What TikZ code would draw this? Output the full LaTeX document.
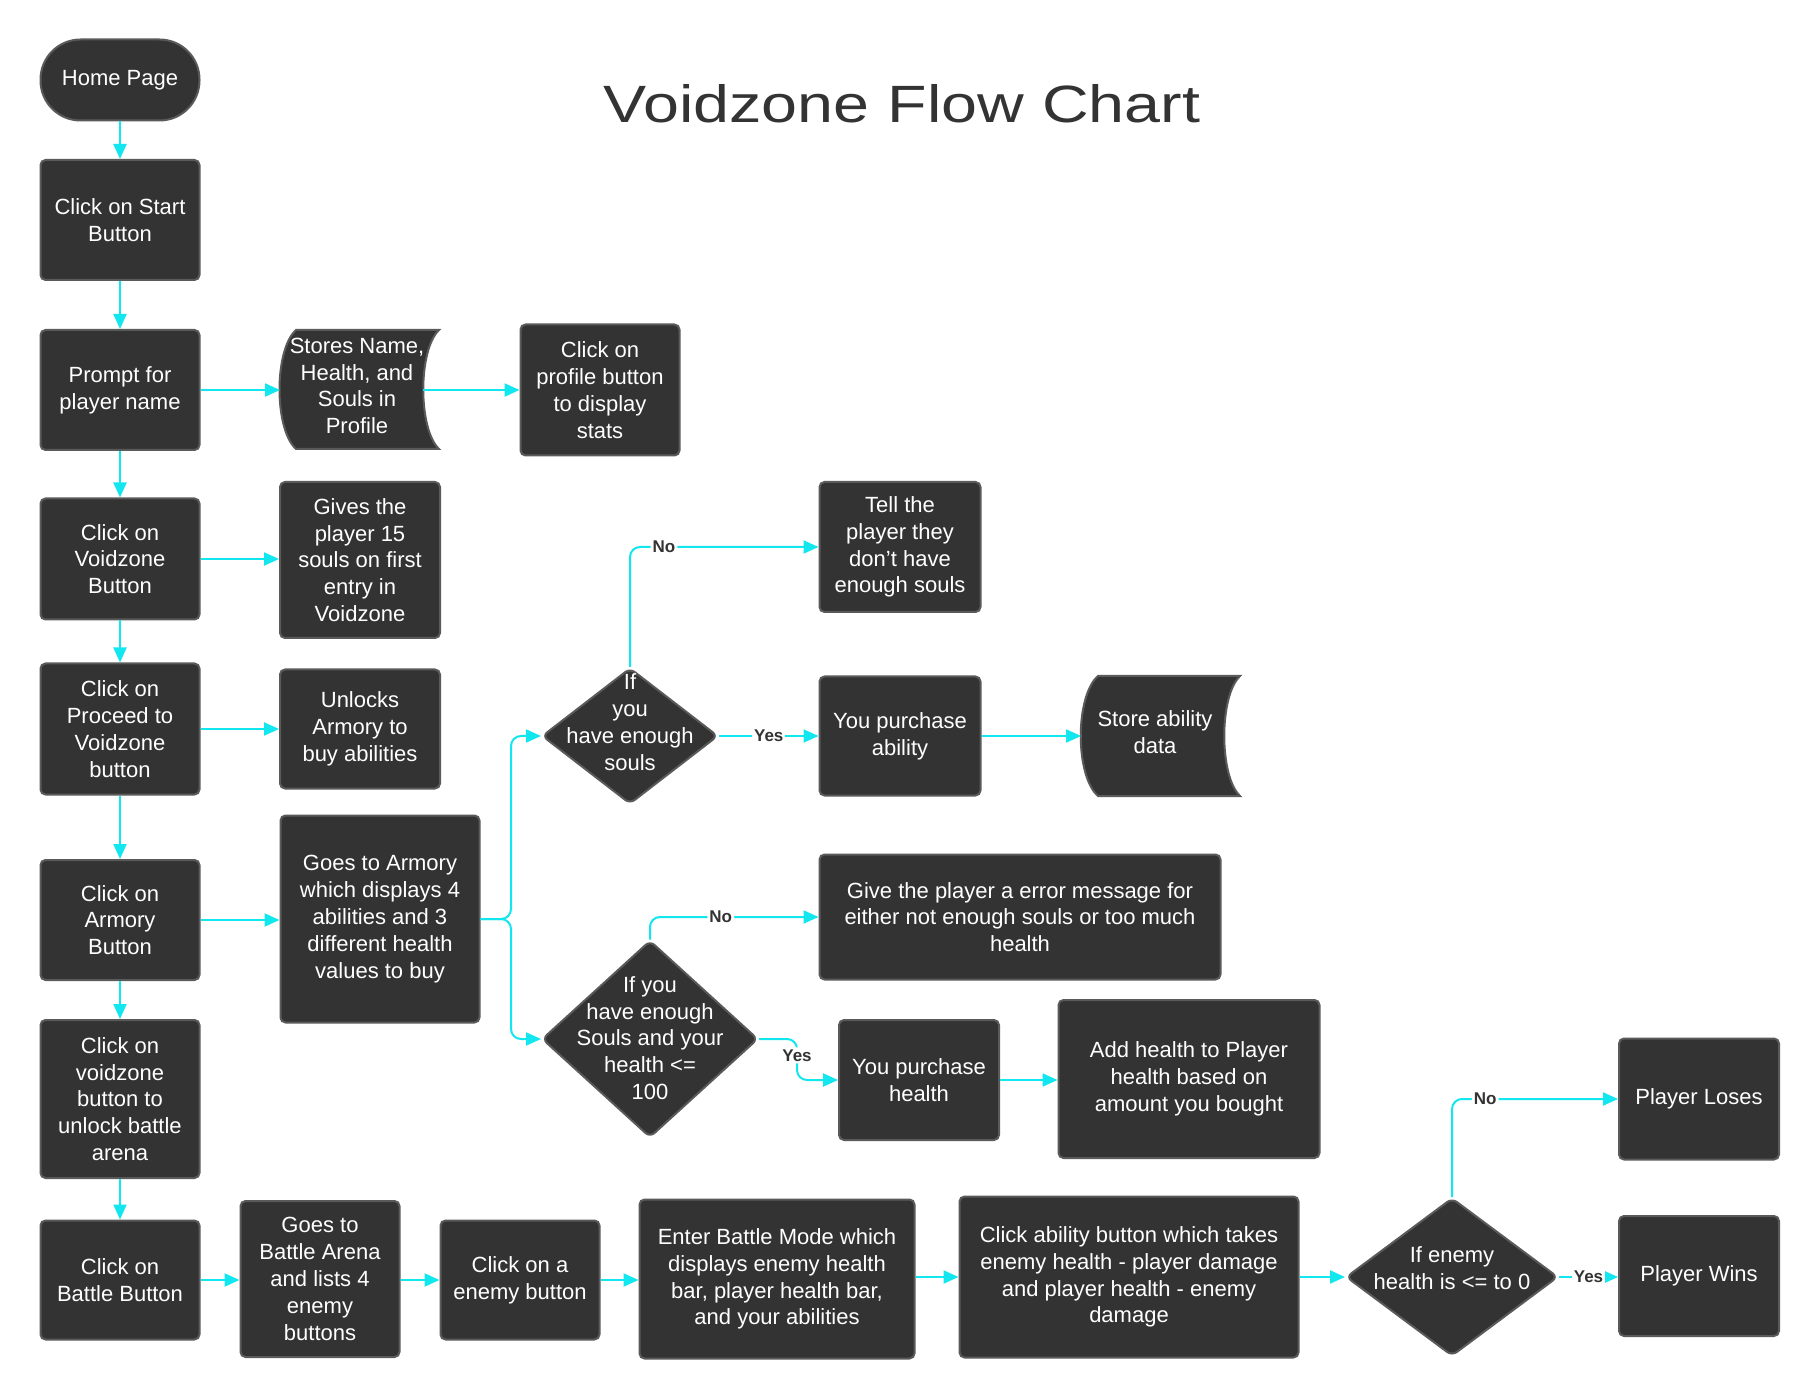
\documentclass[tikz,border=0pt]{standalone}
\usepackage{fontspec}
\setmainfont{Liberation Sans}
\usetikzlibrary{arrows.meta,shapes.geometric,calc}
\definecolor{boxfill}{HTML}{333333}
\definecolor{boxline}{HTML}{5A5A5A}
\definecolor{cyanline}{HTML}{12E6EE}
\definecolor{titlecol}{HTML}{333333}
\tikzset{
  box/.style={rectangle, draw=boxline, fill=boxfill, line width=1pt, rounded corners=2.5pt, text=white, align=center, font=\fontsize{11}{13.4}\selectfont, inner sep=0pt},
  dia/.style={diamond, draw=boxline, fill=boxfill, line width=1pt, rounded corners=3pt, inner sep=0pt},
  dtext/.style={text=white, align=center, font=\fontsize{11}{13.4}\selectfont, inner sep=0pt},
  storeshape/.style={draw=boxline, fill=boxfill, line width=1pt},
  conn/.style={draw=cyanline, line width=1pt, -{Triangle[length=7.5pt,width=6.5pt]}},
  lbl/.style={fill=white, text=titlecol, font=\bfseries\fontsize{8.5}{10}\selectfont, inner sep=1pt}
}
\begin{document}
\begin{tikzpicture}[x=0.5pt,y=-0.5pt]
\fill[white] (0,0) rectangle (1820,1400);
\useasboundingbox (0,0) rectangle (1820,1400);

% title
\node[text=titlecol, font=\fontsize{32}{38}\selectfont] (title) at (902,104) {\scalebox{1.01}[0.82]{Voidzone Flow Chart}};

% left column
\node[box, minimum width=79.5pt, minimum height=40.5pt, rounded corners=20pt] (home) at (120,80) {Home Page};
\node[box, minimum width=79.5pt, minimum height=60pt] (start) at (120,220) {Click on Start\\Button};
\node[box, minimum width=79.5pt, minimum height=60pt] (prompt) at (120,390) {Prompt for\\player name};
\node[box, minimum width=79.5pt, minimum height=60.5pt] (vz) at (120,559) {Click on\\Voidzone\\Button};
\node[box, minimum width=79.5pt, minimum height=65.5pt] (proceed) at (120,729) {Click on\\Proceed to\\Voidzone\\button};
\node[box, minimum width=79.5pt, minimum height=60pt] (armbtn) at (120,920) {Click on\\Armory\\Button};
\node[box, minimum width=79.5pt, minimum height=79pt] (unlockb) at (120,1099) {Click on\\voidzone\\button to\\unlock battle\\arena};
\node[box, minimum width=79.5pt, minimum height=59.5pt] (battle) at (120,1280) {Click on\\Battle Button};

% stores shape
\draw[storeshape] (296,330) -- (439,330) .. controls (418,350) and (418,429) .. (439,449) -- (296,449) .. controls (274,429) and (274,350) .. (296,330) -- cycle;
\node[dtext] (stores) at (357,386) {Stores Name,\\Health, and\\Souls in\\Profile};
\coordinate (storesL) at (280,390);
\coordinate (storesR) at (423,390);
\node[box, minimum width=79.5pt, minimum height=65.5pt] (profile) at (600,390) {Click on\\profile button\\to display\\stats};

\node[box, minimum width=80pt, minimum height=78pt] (gives) at (360,560) {Gives the\\player 15\\souls on first\\entry in\\Voidzone};
\node[box, minimum width=80pt, minimum height=59.5pt] (unlocks) at (360,729) {Unlocks\\Armory to\\buy abilities};
\node[box, minimum width=99.5pt, minimum height=103.5pt] (goarm) at (380,919) {Goes to Armory\\which displays 4\\abilities and 3\\different health\\values to buy};

% bottom row
\node[box, minimum width=79.5pt, minimum height=78pt] (arena) at (320,1279) {Goes to\\Battle Arena\\and lists 4\\enemy\\buttons};
\node[box, minimum width=79.5pt, minimum height=59.5pt] (enemy) at (520,1280) {Click on a\\enemy button};
\node[box, minimum width=137.5pt, minimum height=79.5pt] (bmode) at (777,1279) {Enter Battle Mode which\\displays enemy health\\bar, player health bar,\\and your abilities};
\node[box, minimum width=169.5pt, minimum height=80.5pt] (ability) at (1129,1277) {Click ability button which takes\\enemy health - player damage\\and player health - enemy\\damage};
\node[dia, minimum width=106pt, minimum height=79pt] (d3) at (1452,1277) {};
\node[dtext] (d3t) at (1452,1268) {If enemy\\health is <= to 0};
\node[box, minimum width=80pt, minimum height=60.5pt] (loses) at (1699,1099) {Player Loses};
\node[box, minimum width=80pt, minimum height=60pt] (wins) at (1699,1276) {Player Wins};

% armory branch
\node[dia, minimum width=88pt, minimum height=68pt] (d1) at (630,736) {};
\node[dtext] (d1t) at (630,722) {If\\you\\have enough\\souls};
\node[box, minimum width=80.5pt, minimum height=65pt] (tell) at (900,547) {Tell the\\player they\\don't have\\enough souls};
\node[box, minimum width=80.5pt, minimum height=59.5pt] (pa) at (900,736) {You purchase\\ability};
\draw[storeshape] (1098,676) -- (1240,676) .. controls (1219,696) and (1219,776) .. (1240,796) -- (1098,796) .. controls (1075,776) and (1075,696) .. (1098,676) -- cycle;
\node[dtext] (sad) at (1155,732) {Store ability\\data};
\coordinate (sadL) at (1081,736);

\node[dia, minimum width=108pt, minimum height=98.5pt] (d2) at (650,1039) {};
\node[dtext] (d2t) at (650,1038) {If you\\have enough\\Souls and your\\health <=\\100};
\node[box, minimum width=200.5pt, minimum height=62.5pt] (err) at (1020,917) {Give the player a error message for\\either not enough souls or too much\\health};
\node[box, minimum width=80pt, minimum height=60pt] (ph) at (919,1080) {You purchase\\health};
\node[box, minimum width=130.5pt, minimum height=79pt] (addh) at (1189,1079) {Add health to Player\\health based on\\amount you bought};

% connectors: left column
\draw[conn] (home) -- (start);
\draw[conn] (start) -- (prompt);
\draw[conn] (prompt) -- (vz);
\draw[conn] (vz) -- (proceed);
\draw[conn] (proceed) -- (armbtn);
\draw[conn] (armbtn) -- (unlockb);
\draw[conn] (unlockb) -- (battle);

\draw[conn] (prompt.east) -- (storesL);
\draw[conn] (storesR) -- (storesR -| profile.west);
\draw[conn] (vz.east) -- (vz.east -| gives.west);
\draw[conn] (proceed.east) -- (proceed.east -| unlocks.west);
\draw[conn] (armbtn.east) -- (armbtn.east -| goarm.west);

% bottom row
\draw[conn] (battle.east) -- (battle.east -| arena.west);
\draw[conn] (enemy.west -| arena.east) -- (enemy.west);
\draw[conn] (enemy.east) -- (enemy.east -| bmode.west);
\draw[conn] (bmode.east |- ability.west) -- (ability.west);
\draw[conn] (ability.east) -- (d3.west);
\draw[conn, rounded corners=5pt] (d3.north) |- node[lbl, pos=0.6] (l5) {No} (loses.west);
\draw[conn] (d3.east) -- node[lbl, pos=0.5] (l6) {Yes} (d3.east -| wins.west);

% armory branch
\coordinate (br) at (511,919);
\draw[conn, rounded corners=5pt] (goarm.east) -- (br) |- (d1.west);
\draw[conn, rounded corners=5pt] (goarm.east) -- (br) |- (d2.west);
\draw[conn, rounded corners=5pt] (d1.north) |- node[lbl, pos=0.59] (l1) {No} (tell.west);
\draw[conn] (d1.east) -- node[lbl, pos=0.5] (l2) {Yes} (pa.west);
\draw[conn] (pa.east) -- (sadL);
\draw[conn, rounded corners=5pt] (d2.north) |- node[lbl, pos=0.71] (l3) {No} (err.west);
\coordinate (ybend) at (797,1039);
\draw[conn, rounded corners=5pt] (d2.east) -- (ybend) |- node[lbl, pos=0.2] (l4) {Yes} (ph.west);
\draw[conn] (ph.east) -- (ph.east -| addh.west);
\end{tikzpicture}
\end{document}
